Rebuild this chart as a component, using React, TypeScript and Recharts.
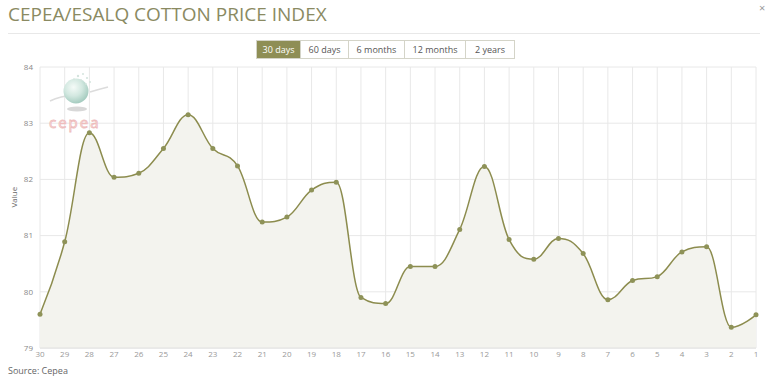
import React from 'react';
import { AreaChart, Area, XAxis, YAxis, CartesianGrid } from 'recharts';

const categories = ['30','29','28','27','26','25','24','23','22','21','20','19','18','17','16','15','14','13','12','11','10','9','8','7','6','5','4','3','2','1'];
const values = [79.60,80.89,82.83,82.04,82.11,82.55,83.15,82.55,82.24,81.24,81.33,81.81,81.95,79.90,79.79,80.45,80.45,81.11,82.23,80.93,80.58,80.95,80.68,79.86,80.20,80.27,80.71,80.80,79.37,79.59];
const yTicks = [79, 80, 81, 82, 83, 84];
const buttons = ['30 days', '60 days', '6 months', '12 months', '2 years'];
const buttonWidths = [45, 48, 56, 61, 49];

const data = categories.map((c, i) => ({ day: c, value: values[i] }));

const OLIVE = '#8c8c4e';
const FONT = '"Open Sans", "DejaVu Sans", sans-serif';

// Highcharts-style spline as a d3 curve factory
function splineCurve(context: any) {
  let pts: number[][] = [];
  let line = NaN;
  return {
    areaStart() { line = 0; },
    areaEnd() { line = NaN; },
    lineStart() { pts = []; },
    lineEnd() {
      const n = pts.length;
      if (n) {
        if (line) context.lineTo(pts[0][0], pts[0][1]);
        else context.moveTo(pts[0][0], pts[0][1]);
        const left: number[][] = [];
        const right: number[][] = [];
        const s = 1.5, d = 2.5;
        for (let i = 0; i < n; i++) {
          const p = pts[i];
          if (i > 0 && i < n - 1) {
            const l = pts[i - 1], r = pts[i + 1];
            const lcx = (s * p[0] + l[0]) / d;
            let lcy = (s * p[1] + l[1]) / d;
            const rcx = (s * p[0] + r[0]) / d;
            let rcy = (s * p[1] + r[1]) / d;
            if (rcx !== lcx) {
              const corr = ((rcy - lcy) * (rcx - p[0])) / (rcx - lcx) + p[1] - rcy;
              lcy += corr; rcy += corr;
            }
            if (lcy > l[1] && lcy > p[1]) { lcy = Math.max(l[1], p[1]); rcy = 2 * p[1] - lcy; }
            else if (lcy < l[1] && lcy < p[1]) { lcy = Math.min(l[1], p[1]); rcy = 2 * p[1] - lcy; }
            if (rcy > r[1] && rcy > p[1]) { rcy = Math.max(r[1], p[1]); lcy = 2 * p[1] - rcy; }
            else if (rcy < r[1] && rcy < p[1]) { rcy = Math.min(r[1], p[1]); lcy = 2 * p[1] - rcy; }
            left[i] = [lcx, lcy];
            right[i] = [rcx, rcy];
          } else {
            left[i] = p;
            right[i] = p;
          }
        }
        for (let i = 1; i < n; i++) {
          context.bezierCurveTo(right[i - 1][0], right[i - 1][1], left[i][0], left[i][1], pts[i][0], pts[i][1]);
        }
      }
      if (line || (line !== 0 && n === 1)) context.closePath();
      line = 1 - line;
    },
    point(x: number, y: number) { pts.push([+x, +y]); },
  };
}

export default function App() {
  return (
    <div style={{ position: 'absolute', left: 0, top: 0, width: 774, height: 377, background: '#fff', fontFamily: FONT, overflow: 'hidden' }}>
      <div style={{ position: 'absolute', left: 8, top: 1, fontSize: 19, color: '#8a8a62', whiteSpace: 'nowrap', lineHeight: '26px' }}>
        CEPEA/ESALQ COTTON PRICE INDEX
      </div>
      <div style={{ position: 'absolute', left: 759, top: 1, fontSize: 11, lineHeight: '13px', color: '#999' }}>×</div>
      <div style={{ position: 'absolute', left: 8, top: 33, width: 752, height: 1, background: '#e8e8e8' }} />
      <div style={{ position: 'absolute', left: 256, top: 40, display: 'flex', height: 19 }}>
        {buttons.map((b, i) => (
          <div key={b} style={{
            width: buttonWidths[i] - (i === 0 ? 2 : 1),
            textAlign: 'center',
            height: 17,
            lineHeight: '17px',
            fontSize: 9,
            border: '1px solid #d4d4c8',
            borderLeft: i === 0 ? '1px solid #d4d4c8' : 'none',
            background: i === 0 ? '#8e8e55' : '#fff',
            color: i === 0 ? '#fff' : '#555',
            whiteSpace: 'nowrap',
          }}>{b}</div>
        ))}
      </div>
      <div style={{ position: 'absolute', left: 0, top: 0 }}>
        <AreaChart width={774} height={377} data={data} margin={{ top: 67, right: 18, bottom: 9, left: 0 }}>
          <CartesianGrid stroke="#e8e8e8" vertical={true} horizontal={true} />
          <XAxis dataKey="day" scale="point" padding={{ left: 0, right: 0 }} height={20}
            tickLine={false} axisLine={{ stroke: '#e0e0e0' }} tickSize={0} tickMargin={3}
            interval={0} tick={{ fontSize: 8, fill: '#999', fontFamily: FONT }} />
          <YAxis domain={[79, 84]} ticks={yTicks} width={40} tickLine={false} axisLine={false}
            tickSize={0} tickMargin={7} tick={{ fontSize: 8, fill: '#888', fontFamily: FONT }}
            label={{ value: 'Value', angle: -90, position: 'insideLeft', offset: 14, style: { fontSize: 8, fill: '#666', fontFamily: FONT } }} />
          <Area dataKey="value" type={splineCurve as any} stroke={OLIVE} strokeWidth={1.5}
            fill="#f3f3ee" fillOpacity={1}
            dot={{ r: 2.5, fill: '#8e9258', stroke: '#8e9258', strokeWidth: 0 }}
            activeDot={false} isAnimationActive={false} />
        </AreaChart>
      </div>
      <svg style={{ position: 'absolute', left: 0, top: 0 }} width={774} height={377} pointerEvents="none">
        <defs>
          <radialGradient id="globe2" cx="40%" cy="35%" r="65%">
            <stop offset="0%" stopColor="#f5fbf8" />
            <stop offset="55%" stopColor="#d2e8e0" />
            <stop offset="100%" stopColor="#a6ccc0" />
          </radialGradient>
        </defs>
        <ellipse cx={77} cy={109} rx={10} ry={2.5} fill="#d8d8d8" />
        <path d="M50 101 Q 60 96 75 95 M 90 92 Q 100 89 108 87" stroke="#dcdcdc" strokeWidth={1.5} fill="none" />
        <circle cx={76} cy={91} r={12.5} fill="url(#globe2)" />
        <g fill="#d4e4de">
          <circle cx={78} cy={76} r={1.2} /><circle cx={83} cy={74} r={1} /><circle cx={87} cy={78} r={1.1} />
          <circle cx={81} cy={80} r={0.9} /><circle cx={90} cy={82} r={1} /><circle cx={74} cy={79} r={0.8} />
          <circle cx={86} cy={84} r={0.9} />
        </g>
        <text x={49} y={128} fontSize={15} fill="#fbeaea" stroke="#eebcbc" strokeWidth={0.8} fontFamily={FONT} letterSpacing={2}>cepea</text>
      </svg>
      <div style={{ position: 'absolute', left: 8, top: 364, fontSize: 9, color: '#666' }}>Source: Cepea</div>
    </div>
  );
}
